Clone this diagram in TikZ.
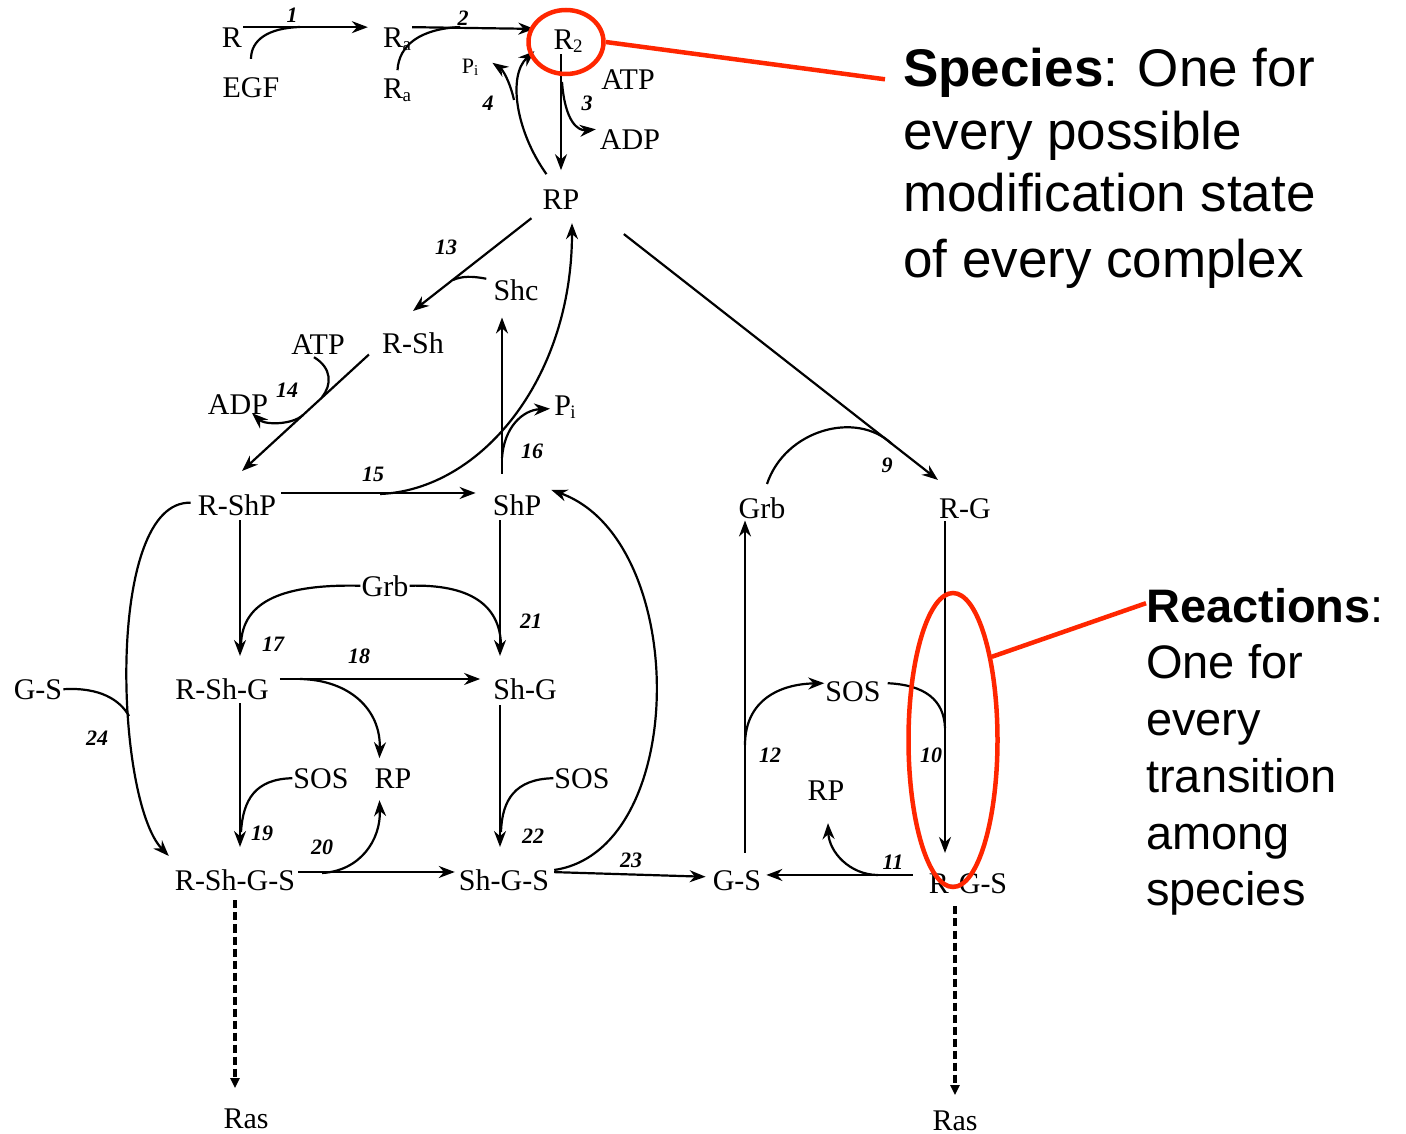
\documentclass[tikz,border=0pt]{standalone}
\usepackage{fontspec}
\setmainfont{Liberation Serif}
\newfontfamily\arialfont{Liberation Sans}
\usetikzlibrary{arrows.meta,calc,shapes.geometric}
\definecolor{hired}{RGB}{255,38,0}
% lowered small index letter (R_a, R_2, P_i)
\newcommand\smallsub[1]{\kern-0.5pt\raisebox{-3pt}{\fontsize{19}{19}\selectfont #1}}
\newcommand\tinysub[1]{\raisebox{-2pt}{\fontsize{15}{15}\selectfont #1}}

\begin{document}
\begin{tikzpicture}[x=1pt,y=-1pt,
  lbl/.style={font=\fontsize{30}{30}\selectfont, inner sep=1pt, anchor=base},
  num/.style={font=\fontsize{22}{22}\selectfont\bfseries\itshape, inner sep=0pt},
  ln/.style={line width=2.2pt},
  arr/.style={ln, -{Stealth[length=16pt,width=12pt]}},
  dasharr/.style={line width=3.2pt, dash pattern=on 8pt off 4pt, -{Triangle[length=10pt,width=9pt]}},
  note/.style={font=\arialfont\fontsize{53}{53}\selectfont, anchor=base west, inner sep=0pt},
  note2/.style={font=\arialfont\fontsize{47}{47}\selectfont, anchor=base west, inner sep=0pt},
  hl/.style={draw=hired, line width=4.5pt},
]
\useasboundingbox (0,0) rectangle (1406,1134);

% ---------- species ----------
\node[lbl] (R)     at (232,48)  {R};
\node[lbl] (EGF)   at (251,98)  {EGF};
\node[lbl] (Ra)    at (397,48)  {R\smallsub{a}};
\node[lbl] (Rb)    at (397,99)  {R\smallsub{a}};
\node[lbl] (R2)    at (568,50)  {R\smallsub{2}};
\node[lbl, font=\fontsize{22}{22}\selectfont] (Pi1) at (470,74) {P\tinysub{i}};
\node[lbl] (ATP1)  at (628,90)  {ATP};
\node[lbl] (ADP1)  at (630,150) {ADP};
\node[lbl] (RP)    at (561,210) {RP};
\node[lbl] (Shc)   at (516,301) {Shc};
\node[lbl] (RSh)   at (413,353) {R-Sh};
\node[lbl] (ATP2)  at (318,354) {ATP};
\node[lbl] (ADP2)  at (238,414) {ADP};
\node[lbl] (Pi2)   at (565,415) {P\smallsub{i}};
\node[lbl] (RShP)  at (237,515) {R-ShP};
\node[lbl] (ShP)   at (517,515) {ShP};
\node[lbl] (Grb1)  at (385,596) {Grb};
\node[lbl] (GS1)   at (38,699)  {G-S};
\node[lbl] (RShG)  at (222,699) {R-Sh-G};
\node[lbl] (ShG)   at (525,699) {Sh-G};
\node[lbl] (SOS1)  at (321,788) {SOS};
\node[lbl] (RP2)   at (393,788) {RP};
\node[lbl] (SOS2)  at (582,788) {SOS};
\node[lbl] (RShGS) at (235,890) {R-Sh-G-S};
\node[lbl] (ShGS)  at (504,890) {Sh-G-S};
\node[lbl] (GS2)   at (737,890) {G-S};
\node[lbl] (RGS)   at (968,893) {R-G-S};
\node[lbl] (Grb2)  at (762,518) {Grb};
\node[lbl] (RG)    at (965,518) {R-G};
\node[lbl] (SOS3)  at (853,701) {SOS};
\node[lbl] (RP3)   at (826,800) {RP};
\node[lbl] (Ras1)  at (246,1128) {Ras};
\node[lbl] (Ras2)  at (955,1130) {Ras};

% ---------- reaction numbers ----------
\node[num] (n1)  at (292,15)  {1};
\node[num] (n2)  at (463,18)  {2};
\node[num] (n3)  at (587,103) {3};
\node[num] (n4)  at (488,103) {4};
\node[num] (n9)  at (887,465) {9};
\node[num] (n10) at (931,755) {10};
\node[num] (n11) at (893,862) {11};
\node[num] (n12) at (770,755) {12};
\node[num] (n13) at (446,247) {13};
\node[num] (n14) at (287,390) {14};
\node[num] (n15) at (373,474) {15};
\node[num] (n16) at (532,451) {16};
\node[num] (n17) at (273,644) {17};
\node[num] (n18) at (359,656) {18};
\node[num] (n19) at (262,833) {19};
\node[num] (n20) at (322,847) {20};
\node[num] (n21) at (531,621) {21};
\node[num] (n22) at (533,836) {22};
\node[num] (n23) at (631,860) {23};
\node[num] (n24) at (97,738)  {24};

% ---------- junction points and columns ----------
\coordinate (j1)  at (300,27);
\coordinate (j2)  at (460,27);
\coordinate (j3)  at (562,82);
\coordinate (j4)  at (514,100);
\coordinate (j13) at (453,280);
\coordinate (j14a) at (322,397);
\coordinate (j14b) at (303,415);
\coordinate (j15) at (380,494);
\coordinate (j16) at (502,458);
\coordinate (j17) at (241,645);
\coordinate (j21) at (501,645);
\coordinate (j18) at (300,679);
\coordinate (j19) at (241,832);
\coordinate (j22) at (501,832);
\coordinate (j20) at (322,873);
\coordinate (j24) at (129,716);
\coordinate (j9)  at (892,444);
\coordinate (j10) at (945,728);
\coordinate (j12) at (745,745);
\coordinate (j11) at (878,875);
\coordinate (cS) at (502,0);
\coordinate (cL) at (240,0);
\coordinate (cM) at (500,0);
\coordinate (cR) at (945,0);
\coordinate (cG) at (745,0);

% ---------- receptor activation (1-4) ----------
\draw[arr, shorten >=14pt] (R.north east) -- (Ra.north west);
\draw[ln, shorten <=18pt] (EGF.north) .. controls (251,40) and (268,28) .. (j1);
\draw[arr, shorten >=18pt] (Ra.north east) -- (R2.north west);
\draw[ln, shorten <=8pt] (Rb.north) .. controls (399,45) and (420,29) .. (j2);
\draw[arr, shorten >=19pt] (R2.south -| RP.north) -- (RP.north);
\draw[arr, shorten >=3pt] (j3) .. controls (565,122) and (578,131) .. (ADP1.north west);
\draw[arr] ($(RP.north west)+(5,-15)$) .. controls (515,130) and (508,75) .. ($(R2.south west)+(-18,-3)$);
\draw[arr] (j4) .. controls (510,82) and (503,70) .. ($(Pi1.east)+(13,-5)$);

% ---------- Shc branch (13-16) ----------
\draw[arr] ($(RP.south west)+(-10,7)$) -- ($(RSh.north)+(0,-20)$);
\draw[ln] ($(Shc.west)+(-6,-12)$) .. controls (472,276) and (462,276) .. (j13);
\draw[arr] ($(RSh.south west)+(-12,0)$) -- ($(RShP.north)+(5,-22)$);
\draw[ln] ($(ATP2.south)+(-4,2)$) .. controls (332,368) and (332,385) .. (j14a);
\draw[arr] (j14b) .. controls (292,425) and (265,425) .. ($(ADP2.south east)+(-17,-2)$);
\draw[arr] ($(ShP.north -| cS)+(0,-19)$) -- ($(Shc.south -| cS)+(0,15)$);
\draw[arr] (j16) .. controls (504,428) and (522,410) .. ($(Pi2.west)+(-3,2)$);
\draw[arr, shorten <=4pt, shorten >=16pt] (RShP.north east) -- (ShP.north west);
\draw[arr] (j15) .. controls (480,490) and (572,380) .. ($(RP.south)+(11,12)$);

% ---------- Grb / SOS binding (17-24) ----------
\draw[arr] ($(RShP.south -| cL)+(0,4)$) -- ($(RShG.north -| cL)+(0,-21)$);
\draw[ln] (Grb1.west) .. controls (285,584) and (242,600) .. (j17);
\draw[ln] (Grb1.east) .. controls (470,584) and (500,605) .. (j21);
\draw[arr] ($(ShP.south -| cM)+(0,4)$) -- ($(ShG.north -| cM)+(0,-21)$);
\draw[arr, shorten <=10pt, shorten >=12pt] ($(RShG.north east)+(0,2)$) -- ($(ShG.north west)+(0,2)$);
\draw[arr] (j18) .. controls (350,680) and (381,710) .. ($(RP2.north west)+(6,-9)$);
\draw[arr] ($(RShG.south -| cL)+(0,3)$) -- ($(RShGS.north -| cL)+(0,-21)$);
\draw[ln] (SOS1.west) .. controls (255,779) and (243,800) .. (j19);
\draw[arr] ($(ShG.south -| cM)+(0,5)$) -- ($(ShGS.north -| cM)+(0,-21)$);
\draw[ln] (SOS2.west) .. controls (515,779) and (502,800) .. (j22);
\draw[arr, shorten <=2pt, shorten >=3pt] ($(RShGS.north east)+(0,4)$) -- ($(ShGS.north west)+(0,4)$);
\draw[arr] (j20) .. controls (360,871) and (381,840) .. ($(RP2.south west)+(6,11)$);
\draw[arr, shorten <=4pt, shorten >=6pt] ($(ShGS.north east)+(0,4)$) -- ($(GS2.north west)+(0,8)$);
\draw[arr] ($(ShGS.north east)+(4,2)$) .. controls (690,850) and (690,540) .. ($(ShP.north east)+(9,-3)$);
\draw[arr] ($(RShP.west)+(-6,-2)$) .. controls (105,500) and (115,800) .. ($(RShGS.north west)+(-5,-12)$);
\draw[ln] (GS1.east) .. controls (100,687) and (120,700) .. (j24);

% ---------- Grb branch (9-12) ----------
\draw[arr, shorten <=55pt] (RP.east) -- ($(RG.north west)+(0,-17)$);
\draw[ln] ($(Grb2.north)+(5,-12)$) .. controls (785,430) and (856,410) .. (j9);
\draw[arr] ($(RG.south -| cR)+(0,2)$) -- ($(RGS.north -| cR)+(0,-19)$);
\draw[ln] ($(SOS3.east)+(6,-8)$) .. controls (925,685) and (944,700) .. (j10);
\draw[arr] ($(GS2.north -| cG)+(0,-16)$) -- ($(Grb2.south -| cG)+(0,1)$);
\draw[arr] (j12) .. controls (745,700) and (780,684) .. ($(SOS3.west)+(0,-8)$);
\draw[arr, shorten <=15pt, shorten >=4pt] ($(RGS.north west)+(0,3)$) -- ($(GS2.north east)+(0,6)$);
\draw[arr] (j11) .. controls (850,875) and (829,852) .. ($(RP3.south)+(2,22)$);

% ---------- downstream to Ras ----------
\draw[dasharr, shorten <=9pt, shorten >=19pt] (RShGS.south) -- (RShGS.south |- Ras1.north);
\draw[dasharr, shorten <=12pt, shorten >=14pt] (RGS.south -| Ras2.north) -- (Ras2.north);

% ---------- annotations ----------
\node[note] (sp1) at (903,87)  {\textbf{Species}: One for};
\node[note] (sp2) at (903,150) {every possible};
\node[note] (sp3) at (903,212) {modification state};
\node[note] (sp4) at (903,277) {of every complex};
\node[note2] (re1) at (1146,622) {\textbf{Reactions}:};
\node[note2] (re2) at (1146,678) {One for};
\node[note2] (re3) at (1146,735) {every};
\node[note2] (re4) at (1146,792) {transition};
\node[note2] (re5) at (1146,849) {among};
\node[note2] (re6) at (1146,905) {species};

\node[hl, ellipse, minimum width=75pt, minimum height=64pt, inner sep=0pt] (ring1) at (566,42) {};
\node[hl, ellipse, minimum width=89pt, minimum height=294pt, inner sep=0pt] (ring2) at (953,740) {};
\draw[hl] (ring1.east) -- ($(sp1.west)+(-18,6)$);
\draw[hl] (ring2.65) -- ($(re1.west)+(0,-2)$);
\end{tikzpicture}
\end{document}
